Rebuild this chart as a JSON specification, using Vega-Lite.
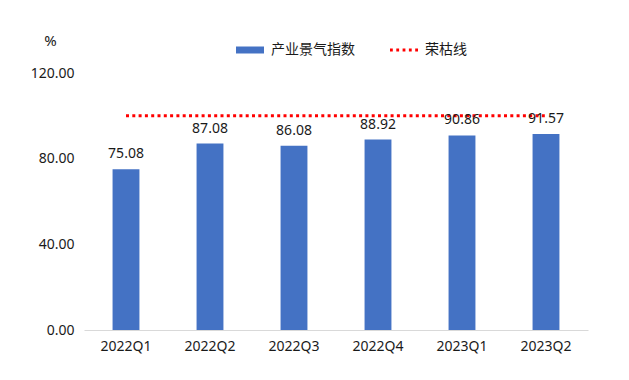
{
  "$schema": "https://vega.github.io/schema/vega-lite/v6.json",
  "width": 504,
  "height": 257,
  "autosize": "none",
  "padding": {"left": 84, "top": 73, "right": 41, "bottom": 50},
  "background": "#ffffff",
  "config": {
    "view": {"stroke": null},
    "font": "Noto Sans, Noto Sans CJK SC",
    "axis": {"labelFont": "Noto Sans, Noto Sans CJK SC", "labelFontSize": 14, "labelColor": "#1a1a1a", "titleFont": "Noto Sans, Noto Sans CJK SC"},
    "legend": {"labelFont": "Noto Sans, Noto Sans CJK SC", "labelFontSize": 14, "labelColor": "#1a1a1a"}
  },
  "datasets": {
    "bars": [
      {"quarter": "2022Q1", "value": 75.08, "series": "产业景气指数"},
      {"quarter": "2022Q2", "value": 87.08, "series": "产业景气指数"},
      {"quarter": "2022Q3", "value": 86.08, "series": "产业景气指数"},
      {"quarter": "2022Q4", "value": 88.92, "series": "产业景气指数"},
      {"quarter": "2023Q1", "value": 90.86, "series": "产业景气指数"},
      {"quarter": "2023Q2", "value": 91.57, "series": "产业景气指数"}
    ],
    "line": [
      {"quarter": "2022Q1", "value": 100, "series": "荣枯线"},
      {"quarter": "2022Q2", "value": 100, "series": "荣枯线"},
      {"quarter": "2022Q3", "value": 100, "series": "荣枯线"},
      {"quarter": "2022Q4", "value": 100, "series": "荣枯线"},
      {"quarter": "2023Q1", "value": 100, "series": "荣枯线"},
      {"quarter": "2023Q2", "value": 100, "series": "荣枯线"}
    ]
  },
  "encoding": {
    "x": {
      "field": "quarter",
      "type": "nominal",
      "sort": null,
      "scale": {"paddingInner": 0.68, "paddingOuter": 0.34},
      "axis": {"title": null, "labelAngle": 0, "ticks": false, "domainColor": "#D9D9D9", "domainWidth": 1, "labelPadding": 9}
    },
    "y": {
      "field": "value",
      "type": "quantitative",
      "scale": {"domain": [0, 120], "nice": false},
      "axis": {
        "values": [0, 40, 80, 120],
        "format": ".2f",
        "grid": false,
        "domain": false,
        "ticks": false,
        "labelPadding": 10,
        "title": "%",
        "titleAngle": 0,
        "titleAlign": "center",
        "titleBaseline": "middle",
        "titleX": -34,
        "titleY": -33,
        "titleFontSize": 15,
        "titleFontWeight": "normal",
        "titleColor": "#1a1a1a"
      }
    }
  },
  "layer": [
    {
      "data": {"name": "bars"},
      "mark": {"type": "bar"},
      "encoding": {
        "color": {
          "field": "series",
          "type": "nominal",
          "scale": {"domain": ["产业景气指数", "荣枯线"], "range": ["#4472C4", "#FF0000"]},
          "legend": {
            "title": null,
            "orient": "none",
            "direction": "horizontal",
            "legendX": 152,
            "legendY": -37,
            "symbolSize": 784,
            "labelOffset": 7,
            "columnPadding": 35,
            "encode": {
              "symbols": {
                "update": {
                  "shape": {"signal": "datum.value === '荣枯线' ? 'M-1,-0.1h0.2v0.2h-0.2zM-0.55,-0.1h0.2v0.2h-0.2zM-0.1,-0.1h0.2v0.2h-0.2zM0.35,-0.1h0.2v0.2h-0.2zM0.8,-0.1h0.2v0.2h-0.2z' : 'M-1,-0.25H1V0.25H-1Z'"},
                  "fill": {"signal": "datum.value === '荣枯线' ? '#FF0000' : '#4472C4'"},
                  "stroke": {"value": "transparent"},
                  "strokeWidth": {"value": 0},
                  "opacity": {"value": 1},
                  "fillOpacity": {"value": 1}
                }
              }
            }
          }
        }
      }
    },
    {
      "data": {"name": "line"},
      "mark": {"type": "line", "strokeWidth": 3, "strokeDash": [3, 3.3], "strokeCap": "butt"},
      "encoding": {
        "x": {"field": "quarter", "type": "nominal", "sort": null, "bandPosition": 0.5},
        "color": {"field": "series", "type": "nominal"}
      }
    },
    {
      "data": {"name": "bars"},
      "mark": {"type": "text", "baseline": "alphabetic", "dy": -11, "fontSize": 14, "color": "#1a1a1a"},
      "encoding": {
        "text": {"field": "value", "type": "quantitative", "format": ".2f"}
      }
    }
  ]
}
